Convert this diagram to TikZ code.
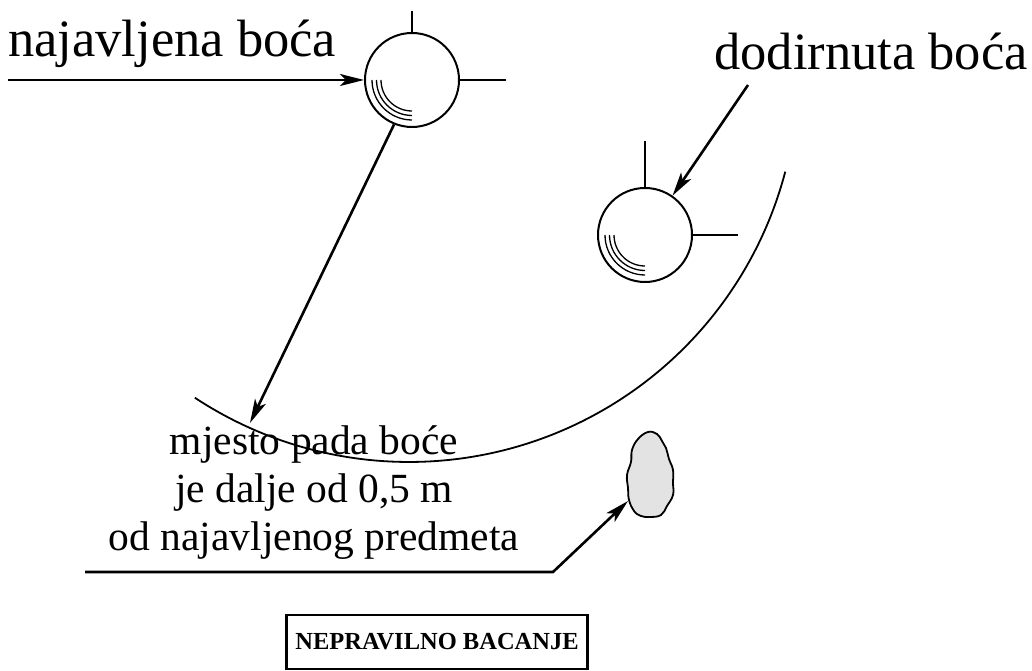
\documentclass[tikz,border=0pt]{standalone}
\usepackage{fontspec}
\setmainfont{Liberation Serif}
\usetikzlibrary{arrows.meta,positioning}
\tikzstyle{arrow} = [line width=2.6pt,-{Stealth[length=24pt,width=12pt,inset=6pt]}]
\tikzstyle{ball} = [circle,draw,line width=2pt,minimum size=94pt,inner sep=0pt]

\begin{document}
\begin{tikzpicture}[x=1pt,y=1pt,
        tick/.style={line width=2pt},
        shine/.style={line width=1.3pt},
        big/.style={font=\fontsize{52.5}{60}\selectfont, inner sep=0pt},
        small/.style={font=\fontsize{41.5}{48}\selectfont, inner sep=0pt, anchor=base}
        ]
    \useasboundingbox (0,0) rectangle (1032,671);
    % boce
    \node[ball] (najavljena) at (412,591) {};
    \node[ball] (dodirnuta) at (645,436) {};
    \draw[tick] (najavljena.north) -- ++(0,21);
    \draw[tick] (najavljena.east) -- ++(46,0);
    \draw[tick] (dodirnuta.north) -- ++(0,46);
    \draw[tick] (dodirnuta.east) -- ++(45,0);
    \foreach \r in {40,35.5,31}{
        \draw[shine] ([shift={(180:\r)}]najavljena.center) arc (180:270:\r);
        \draw[shine] ([shift={(180:\r)}]dodirnuta.center) arc (180:270:\r);
    }
    % natpisi
    \node[big, anchor=base west] (lbl1) at (8,614) {najavljena boća};
    \node[big, anchor=base east] (lbl2) at (1028,601) {dodirnuta boća};
    \coordinate (start1) at (8,591);
    \coordinate (start2) at (748,586);
    \draw[arrow] (start1) -- (najavljena.west);
    \draw[arrow] (start2) -- (dodirnuta.55);
    % luk
    \coordinate (sredina) at (409,598);
    \draw[line width=1.8pt] ([shift={(236.6:389)}]sredina) arc (236.6:345.3:389);
    \coordinate (pad) at (250,248);
    \draw[arrow] (najavljena.248) -- (pad);
    % predmet
    \draw[fill=gray!22, line width=1.8pt] plot[smooth cycle, tension=0.7] coordinates {
        (648,239) (657,237) (662,230) (666,223) (669,212) (673,201) (673,188)
        (673,176) (667,165) (661,156) (650,154) (641,155) (634,160) (629,171)
        (628,183) (627,196) (631,209) (632,221) (638,232)};
    \coordinate (kamen) at (628,170);
    \coordinate (linija) at (85,99);
    \coordinate (lom) at (553,99);
    \draw[arrow] (linija) -- (lom) -- (kamen);
    % tekst
    \node[small] (txt1) at (314,216) {mjesto pada boće};
    \node[small] (txt2) at (314,168) {je dalje od 0,5 m};
    \node[small] (txt3) at (314,120) {od najavljenog predmeta};
    \node[draw, line width=2.8pt, minimum width=301pt, minimum height=54pt,
        font=\bfseries\fontsize{24.5}{28}\selectfont] (naslov) at (437,29) {NEPRAVILNO BACANJE};
\end{tikzpicture}
\end{document}
